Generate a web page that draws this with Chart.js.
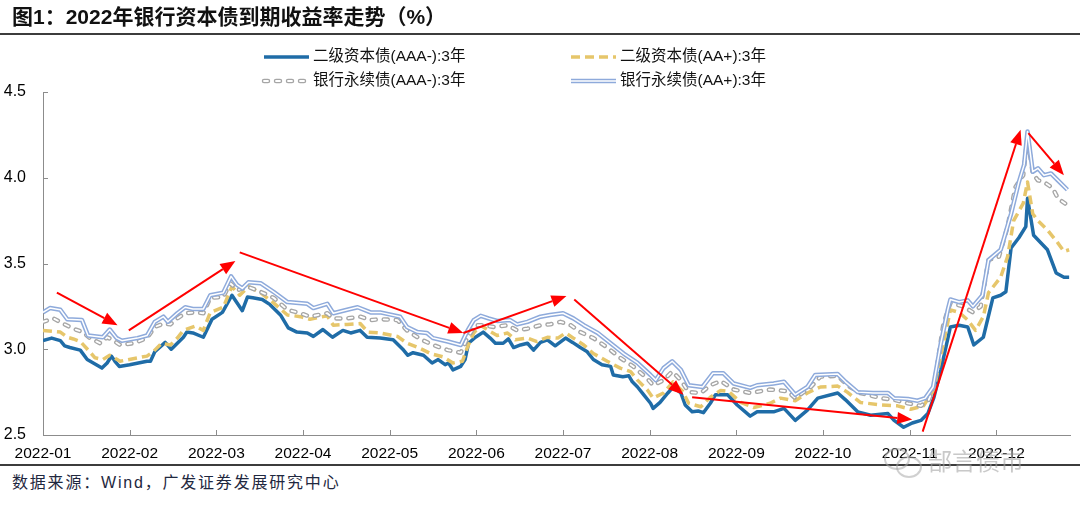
<!DOCTYPE html>
<html>
<head>
<meta charset="utf-8">
<script src="https://cdn.jsdelivr.net/npm/chart.js@4.4.0/dist/chart.umd.min.js"></script>
<style>
  body { margin: 0; background: #fff; }
  #page { position: relative; width: 1080px; height: 511px; overflow: hidden; background: #fff;
          font-family: "Liberation Sans", "Noto Sans CJK SC", sans-serif; }
  #title { position: absolute; left: 12px; top: 4px; font-size: 21px; line-height: 26px; font-weight: bold; color: #111; }
  .rule { position: absolute; left: 0; width: 1080px; height: 2px; background: #3c3c3c; }
  #source { position: absolute; left: 12px; top: 473px; font-size: 16px; line-height: 20px; letter-spacing: 1.8px; color: #1f2840; }
  #mark { position: absolute; left: 928px; top: 448px; font-size: 24px; line-height: 28px; color: rgba(165,165,165,0.6); }
  .bub { position: absolute; border: 2px solid rgba(170,170,170,0.55); border-radius: 50%; }
  #wrap { position: absolute; left: 0; top: 0; width: 1080px; height: 466px; }
</style>
</head>
<body>
<div id="page">
  <div id="wrap"><canvas id="myChart"></canvas></div>
  <div id="title">图1：2022年银行资本债到期收益率走势（%）</div>
  <div class="rule" style="top:33px"></div>
  <div class="rule" style="top:464px"></div>
  <div id="source">数据来源：Wind，广发证券发展研究中心</div>
  <div class="bub" style="left:884px;top:448px;width:22px;height:18px"></div>
  <div class="bub" style="left:896px;top:456px;width:22px;height:18px"></div>
  <div id="mark">郜言债市</div>
</div>
<script>
// 月份刻度 (x 轴以月为单位, 0 = 2022-01 月初)
const monthLabels = ["2022-01", "2022-02", "2022-03", "2022-04", "2022-05", "2022-06",
  "2022-07", "2022-08", "2022-09", "2022-10", "2022-11", "2022-12"];
const yTicks = [2.5, 3.0, 3.5, 4.0, 4.5];

const seriesNames = ["二级资本债(AAA-):3年", "二级资本债(AA+):3年",
  "银行永续债(AAA-):3年", "银行永续债(AA+):3年"];

// 二级资本债(AAA-):3年
const s1X = [0.00, 0.10, 0.20, 0.25, 0.31, 0.43, 0.51, 0.58, 0.68, 0.74, 0.79, 0.83, 0.88, 1.00, 1.20, 1.24, 1.29, 1.41, 1.48, 1.55,
  1.62, 1.66, 1.73, 1.85, 1.95, 2.07, 2.18, 2.24, 2.30, 2.36, 2.42, 2.53, 2.62, 2.74, 2.83, 2.93, 3.05, 3.12, 3.23, 3.34,
  3.46, 3.55, 3.66, 3.74, 3.89, 4.04, 4.16, 4.21, 4.27, 4.39, 4.49, 4.56, 4.64, 4.68, 4.73, 4.82, 4.87, 4.91, 4.99, 5.08,
  5.16, 5.22, 5.31, 5.37, 5.43, 5.51, 5.59, 5.66, 5.74, 5.82, 5.91, 6.03, 6.11, 6.20, 6.28, 6.35, 6.45, 6.55, 6.58, 6.69,
  6.76, 6.80, 6.86, 6.93, 7.01, 7.04, 7.12, 7.21, 7.27, 7.36, 7.41, 7.49, 7.56, 7.62, 7.70, 7.76, 7.90, 8.01, 8.16, 8.24,
  8.43, 8.55, 8.68, 8.82, 8.94, 9.17, 9.26, 9.40, 9.55, 9.75, 9.82, 9.93, 10.03, 10.13, 10.21, 10.28, 10.36, 10.47, 10.57, 10.67,
  10.74, 10.85, 10.96, 11.05, 11.11, 11.17, 11.26, 11.34, 11.36, 11.43, 11.59, 11.69, 11.78, 11.84];
const s1Y = [3.05, 3.065, 3.05, 3.02, 3.01, 2.995, 2.94, 2.92, 2.89, 2.92, 2.96, 2.93, 2.90, 2.91, 2.93, 2.93, 2.985, 3.04, 3.00, 3.035,
  3.07, 3.10, 3.095, 3.07, 3.175, 3.215, 3.315, 3.27, 3.225, 3.305, 3.30, 3.29, 3.26, 3.20, 3.125, 3.10, 3.095, 3.075, 3.115, 3.07,
  3.11, 3.095, 3.11, 3.07, 3.065, 3.055, 2.995, 2.965, 2.98, 2.965, 2.92, 2.94, 2.91, 2.92, 2.88, 2.90, 2.94, 3.035, 3.07, 3.10,
  3.065, 3.035, 3.035, 3.06, 3.01, 3.025, 3.035, 2.995, 3.04, 3.055, 3.02, 3.065, 3.04, 3.01, 2.985, 2.94, 2.91, 2.90, 2.85, 2.84,
  2.845, 2.81, 2.78, 2.735, 2.685, 2.655, 2.69, 2.745, 2.78, 2.745, 2.675, 2.635, 2.64, 2.63, 2.685, 2.735, 2.735, 2.675, 2.61, 2.635,
  2.635, 2.655, 2.585, 2.645, 2.715, 2.745, 2.705, 2.635, 2.615, 2.625, 2.585, 2.545, 2.57, 2.585, 2.625, 2.72, 2.88, 3.13, 3.14, 3.13,
  3.025, 3.07, 3.30, 3.315, 3.335, 3.59, 3.65, 3.715, 3.88, 3.665, 3.58, 3.445, 3.42, 3.42];

// 二级资本债(AA+):3年
const s2X = [0.00, 0.20, 0.28, 0.35, 0.43, 0.54, 0.60, 0.69, 0.77, 0.89, 1.04, 1.20, 1.27, 1.37, 1.47, 1.55, 1.62, 1.76, 1.85, 1.93,
  2.08, 2.18, 2.27, 2.37, 2.51, 2.66, 2.82, 2.97, 3.08, 3.28, 3.35, 3.51, 3.66, 3.75, 3.89, 4.09, 4.20, 4.35, 4.47, 4.62,
  4.73, 4.84, 4.90, 4.97, 5.05, 5.14, 5.24, 5.36, 5.45, 5.59, 5.70, 5.82, 5.94, 6.03, 6.12, 6.24, 6.35, 6.51, 6.66, 6.78,
  6.86, 6.97, 7.04, 7.16, 7.27, 7.38, 7.45, 7.59, 7.70, 7.82, 7.91, 8.05, 8.20, 8.39, 8.51, 8.68, 8.82, 8.97, 9.17, 9.28,
  9.43, 9.67, 9.86, 10.01, 10.16, 10.28, 10.39, 10.47, 10.57, 10.67, 10.76, 10.85, 10.91, 11.05, 11.13, 11.20, 11.31, 11.36, 11.42, 11.48,
  11.59, 11.71, 11.78, 11.84];
const s2Y = [3.11, 3.10, 3.07, 3.06, 3.045, 2.985, 2.95, 2.94, 2.965, 2.93, 2.945, 2.96, 2.985, 3.035, 3.025, 3.065, 3.11, 3.135, 3.11, 3.215,
  3.245, 3.365, 3.315, 3.365, 3.33, 3.27, 3.20, 3.19, 3.175, 3.195, 3.14, 3.145, 3.15, 3.10, 3.095, 3.075, 3.035, 3.005, 2.975, 2.955,
  2.92, 2.93, 3.015, 3.095, 3.14, 3.11, 3.08, 3.095, 3.055, 3.065, 3.045, 3.07, 3.065, 3.095, 3.065, 3.025, 2.975, 2.93, 2.89, 2.87,
  2.82, 2.765, 2.715, 2.745, 2.81, 2.755, 2.685, 2.665, 2.72, 2.76, 2.755, 2.69, 2.66, 2.685, 2.715, 2.70, 2.745, 2.78, 2.785, 2.75,
  2.69, 2.675, 2.67, 2.65, 2.67, 2.765, 3.035, 3.23, 3.215, 3.17, 3.11, 3.19, 3.33, 3.42, 3.54, 3.75, 3.85, 3.975, 3.79, 3.75,
  3.695, 3.62, 3.57, 3.58];

// 银行永续债(AAA-):3年
const s3X = [0.00, 0.12, 0.23, 0.35, 0.46, 0.54, 0.66, 0.74, 0.80, 0.89, 1.04, 1.20, 1.29, 1.39, 1.47, 1.55, 1.64, 1.76, 1.85, 1.93,
  2.08, 2.16, 2.25, 2.36, 2.51, 2.66, 2.82, 2.97, 3.08, 3.28, 3.35, 3.51, 3.66, 3.78, 3.89, 4.09, 4.20, 4.35, 4.50, 4.67,
  4.82, 4.90, 4.99, 5.08, 5.20, 5.36, 5.47, 5.59, 5.74, 5.85, 5.97, 6.09, 6.20, 6.35, 6.51, 6.66, 6.81, 6.97, 7.04, 7.16,
  7.26, 7.36, 7.45, 7.59, 7.70, 7.82, 7.97, 8.16, 8.39, 8.59, 8.68, 8.86, 8.97, 9.17, 9.28, 9.43, 9.67, 9.82, 9.98, 10.13,
  10.22, 10.28, 10.39, 10.47, 10.62, 10.73, 10.82, 10.91, 11.03, 11.13, 11.22, 11.31, 11.36, 11.42, 11.48, 11.55, 11.65, 11.71, 11.82];
const s3Y = [3.16, 3.18, 3.15, 3.12, 3.10, 3.065, 3.035, 3.07, 3.055, 3.025, 3.035, 3.065, 3.13, 3.15, 3.145, 3.18, 3.21, 3.215, 3.21, 3.30,
  3.305, 3.385, 3.345, 3.365, 3.335, 3.30, 3.23, 3.21, 3.19, 3.21, 3.18, 3.18, 3.19, 3.17, 3.175, 3.17, 3.11, 3.06, 3.025, 2.995,
  2.98, 3.07, 3.14, 3.14, 3.13, 3.14, 3.11, 3.12, 3.14, 3.145, 3.16, 3.14, 3.10, 3.065, 3.01, 2.95, 2.90, 2.83, 2.79, 2.82,
  2.87, 2.82, 2.75, 2.745, 2.79, 2.815, 2.765, 2.745, 2.765, 2.755, 2.715, 2.78, 2.84, 2.845, 2.79, 2.745, 2.715, 2.705, 2.685, 2.67,
  2.705, 2.78, 3.15, 3.27, 3.25, 3.215, 3.25, 3.52, 3.54, 3.715, 3.945, 4.015, 4.24, 4.025, 3.985, 3.975, 3.94, 3.88, 3.84];

// 银行永续债(AA+):3年
const s4X = [0.00, 0.08, 0.20, 0.28, 0.45, 0.52, 0.69, 0.77, 0.85, 0.91, 1.09, 1.20, 1.29, 1.39, 1.44, 1.55, 1.64, 1.73, 1.85, 1.93,
  2.08, 2.17, 2.24, 2.30, 2.37, 2.51, 2.66, 2.82, 3.05, 3.12, 3.28, 3.35, 3.51, 3.63, 3.78, 3.89, 4.12, 4.20, 4.32, 4.43,
  4.50, 4.67, 4.82, 4.90, 4.97, 5.05, 5.14, 5.24, 5.39, 5.47, 5.59, 5.74, 5.85, 6.00, 6.12, 6.24, 6.40, 6.55, 6.70, 6.86,
  7.01, 7.07, 7.16, 7.26, 7.36, 7.45, 7.61, 7.73, 7.85, 7.97, 8.16, 8.24, 8.43, 8.55, 8.68, 8.82, 8.91, 9.17, 9.26, 9.40,
  9.58, 9.75, 9.82, 9.98, 10.09, 10.18, 10.27, 10.36, 10.44, 10.47, 10.57, 10.67, 10.73, 10.84, 10.91, 11.05, 11.17, 11.26, 11.32, 11.36,
  11.42, 11.48, 11.55, 11.63, 11.71, 11.82];
const s4Y = [3.215, 3.24, 3.23, 3.175, 3.17, 3.08, 3.07, 3.115, 3.065, 3.05, 3.065, 3.08, 3.16, 3.19, 3.16, 3.21, 3.245, 3.235, 3.235, 3.315,
  3.33, 3.425, 3.375, 3.355, 3.39, 3.385, 3.335, 3.275, 3.265, 3.24, 3.265, 3.21, 3.23, 3.245, 3.215, 3.215, 3.19, 3.13, 3.10, 3.095,
  3.065, 3.045, 3.025, 3.11, 3.17, 3.195, 3.18, 3.165, 3.17, 3.145, 3.16, 3.19, 3.20, 3.21, 3.18, 3.14, 3.095, 3.035, 2.975, 2.92,
  2.85, 2.82, 2.89, 2.93, 2.88, 2.79, 2.78, 2.86, 2.86, 2.80, 2.775, 2.79, 2.80, 2.81, 2.735, 2.78, 2.85, 2.855, 2.81, 2.75,
  2.745, 2.745, 2.715, 2.71, 2.70, 2.715, 2.78, 3.035, 3.23, 3.29, 3.275, 3.285, 3.25, 3.315, 3.52, 3.58, 3.79, 3.975, 4.075, 4.27,
  4.035, 4.055, 4.015, 4.025, 3.985, 3.93];

// 红色趋势箭头 [x0, y0, x1, y1] (数据坐标)
const arrows = [
  [0.16, 3.33, 0.86, 3.14],
  [0.99, 3.11, 2.22, 3.515],
  [2.27, 3.565, 4.85, 3.095],
  [4.85, 3.095, 6.04, 3.31],
  [6.13, 3.29, 7.39, 2.735],
  [7.49, 2.72, 10.03, 2.59],
  [10.15, 2.52, 11.28, 4.28],
  [11.37, 4.26, 11.78, 4.015],
];

// 线条样式 (双线 = 外线 + 白色内线)
const lineStyles = [
  [{ color: "#1f6ca7", width: 3.5, dash: [], cap: "butt" }],
  [{ color: "#e6c66b", width: 3.5, dash: [9, 5], cap: "butt" }],
  [{ color: "#a6a6a6", width: 4.5, dash: [4, 8], cap: "round" }, { color: "#ffffff", width: 1.8, dash: [4, 8], cap: "round" }],
  [{ color: "#8eaadb", width: 4.5, dash: [], cap: "butt" }, { color: "#ffffff", width: 1.5, dash: [], cap: "butt" }],
];
const drawOrder = [[7], [6], [5, 4], [3, 2]];

const allX = [s1X, s2X, s3X, s4X];
const allY = [s1Y, s2Y, s3Y, s4Y];

function toPoints(xs, ys) {
  return xs.map((x, i) => ({ x: x, y: ys[i] }));
}

const datasets = [];
allX.forEach((xs, k) => {
  lineStyles[k].forEach((st, j) => {
    datasets.push({
      label: seriesNames[k],
      data: toPoints(xs, allY[k]),
      borderColor: st.color,
      borderWidth: st.width,
      borderDash: st.dash,
      borderCapStyle: st.cap,
      borderJoinStyle: "round",
      pointRadius: 0,
      tension: 0,
      fill: false,
      order: drawOrder[k][j],
    });
  });
});

// 图例, 内向刻度, 箭头
const extras = {
  id: "extras",
  afterDatasetsDraw(chart) {
    const ctx = chart.ctx;
    const xs = chart.scales.x, ys = chart.scales.y;
    ctx.save();
    ctx.strokeStyle = "#ff0000";
    ctx.fillStyle = "#ff0000";
    ctx.lineWidth = 2;
    arrows.forEach((a) => {
      const x0 = xs.getPixelForValue(a[0]), y0 = ys.getPixelForValue(a[1]);
      const x1 = xs.getPixelForValue(a[2]), y1 = ys.getPixelForValue(a[3]);
      const ang = Math.atan2(y1 - y0, x1 - x0);
      const len = 15, half = 6;
      const bx = x1 - len * Math.cos(ang), by = y1 - len * Math.sin(ang);
      ctx.beginPath();
      ctx.moveTo(x0, y0);
      ctx.lineTo(bx, by);
      ctx.stroke();
      ctx.beginPath();
      ctx.moveTo(x1, y1);
      ctx.lineTo(bx + half * Math.sin(ang), by - half * Math.cos(ang));
      ctx.lineTo(bx - half * Math.sin(ang), by + half * Math.cos(ang));
      ctx.closePath();
      ctx.fill();
    });
    ctx.restore();
  },
  afterDraw(chart) {
    const ctx = chart.ctx;
    const xs = chart.scales.x, ys = chart.scales.y;
    const area = chart.chartArea;
    ctx.save();
    ctx.strokeStyle = "#8c8c8c";
    ctx.lineWidth = 1;
    xs.ticks.forEach((t) => {
      const px = Math.round(xs.getPixelForValue(t.value)) + 0.5;
      ctx.beginPath();
      ctx.moveTo(px, area.bottom);
      ctx.lineTo(px, area.bottom - 5);
      ctx.stroke();
    });
    ys.ticks.forEach((t) => {
      const py = Math.round(ys.getPixelForValue(t.value)) + 0.5;
      ctx.beginPath();
      ctx.moveTo(area.left, py);
      ctx.lineTo(area.left + 5, py);
      ctx.stroke();
    });

    // 图例
    const cols = [263, 570];
    const rows = [57, 81];
    ctx.font = '15.5px "Liberation Sans", "Noto Sans CJK SC", sans-serif';
    ctx.textBaseline = "middle";
    ctx.fillStyle = "#111";
    seriesNames.forEach((name, k) => {
      const x0 = cols[k % 2], y = rows[Math.floor(k / 2)];
      lineStyles[k].forEach((st) => {
        ctx.strokeStyle = st.color;
        ctx.lineWidth = st.width;
        ctx.setLineDash(st.dash);
        ctx.lineCap = st.cap;
        ctx.beginPath();
        ctx.moveTo(x0 + 1, y);
        ctx.lineTo(x0 + 46, y);
        ctx.stroke();
      });
      ctx.setLineDash([]);
      ctx.fillText(name, x0 + 50, y);
    });
    ctx.restore();
  },
};

const ctx = document.querySelector("#myChart").getContext("2d");
const chart = new Chart(ctx, {
  type: "line",
  data: { datasets: datasets },
  options: {
    responsive: true,
    maintainAspectRatio: false,
    animation: false,
    layout: { padding: { top: 92, right: 10, left: 0, bottom: 0 } },
    plugins: { legend: { display: false }, tooltip: { enabled: false } },
    scales: {
      x: {
        type: "linear",
        min: 0,
        max: 11.85,
        afterBuildTicks: (s) => { s.ticks = monthLabels.map((_, i) => ({ value: i })); },
        afterFit: (s) => { s.height = 31; },
        grid: { display: false, drawTicks: false },
        border: { display: true, color: "#8c8c8c", width: 1 },
        ticks: {
          autoSkip: false,
          maxRotation: 0,
          padding: 9,
          color: "#000",
          font: { family: '"Liberation Sans", Arial, sans-serif', size: 15.5 },
          callback: (v, i) => monthLabels[i],
        },
      },
      y: {
        min: 2.5,
        max: 4.5,
        afterBuildTicks: (s) => { s.ticks = yTicks.map((v) => ({ value: v })); },
        afterFit: (s) => { s.width = 43; },
        grid: { display: false, drawTicks: false },
        border: { display: true, color: "#8c8c8c", width: 1 },
        ticks: {
          padding: 17,
          color: "#000",
          font: { family: '"Liberation Sans", Arial, sans-serif', size: 16 },
          callback: (v) => v.toFixed(1),
        },
      },
    },
  },
  plugins: [extras],
});
</script>
</body>
</html>
